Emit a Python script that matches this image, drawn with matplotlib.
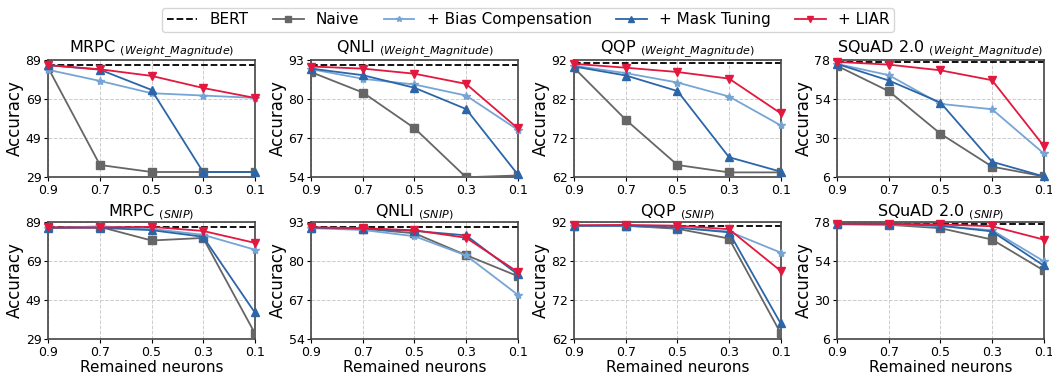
import numpy as np
import matplotlib.pyplot as plt

# --- data -----------------------------------------------------------------
ratios = [0.9, 0.7, 0.5, 0.3, 0.1]
tasks = ['MRPC', 'QNLI', 'QQP', 'SQuAD 2.0']
criteria = ['Weight_Magnitude', 'SNIP']
yticks = [[29, 49, 69, 89], [54, 67, 80, 93], [62, 72, 82, 92], [6, 30, 54, 78]]
bert = [86.3, 91.4, 91.1, 76.9]

# Weight magnitude row
wm_naive = [[84.7, 35.0, 31.4, 31.4, 31.4],
            [88.9, 82.1, 70.2, 53.8, 54.4],
            [89.9, 76.6, 65.0, 63.1, 63.1],
            [74.3, 58.7, 32.5, 12.2, 6.2]]
wm_bias = [[83.9, 78.2, 71.9, 70.7, 69.5],
           [89.9, 86.7, 84.8, 81.1, 69.7],
           [90.5, 88.6, 86.2, 82.6, 75.2],
           [75.5, 68.6, 50.9, 47.6, 20.4]]
wm_mask = [[86.3, 84.0, 73.6, 31.4, 31.4],
           [90.1, 87.9, 83.7, 76.6, 54.8],
           [90.3, 88.0, 84.0, 67.0, 63.3],
           [75.5, 65.3, 51.7, 15.2, 6.2]]
wm_liar = [[86.3, 84.2, 80.8, 74.6, 69.5],
           [90.8, 90.1, 88.4, 85.0, 70.2],
           [91.0, 90.0, 88.9, 87.2, 78.3],
           [76.8, 75.1, 71.6, 65.5, 25.1]]

# SNIP row
snip_naive = [[86.3, 86.6, 79.6, 80.9, 32.1],
              [91.2, 90.8, 89.3, 82.0, 75.0],
              [91.1, 91.1, 90.3, 87.8, 63.5],
              [76.8, 76.4, 74.3, 67.3, 48.3]]
snip_bias = [[85.9, 86.9, 85.6, 82.5, 74.9],
             [91.0, 90.4, 88.3, 81.9, 68.8],
             [91.0, 91.0, 90.6, 89.6, 84.2],
             [76.8, 76.6, 75.5, 73.1, 54.0]]
snip_mask = [[86.1, 86.1, 84.9, 81.5, 42.7],
             [91.2, 90.8, 90.1, 88.6, 75.6],
             [91.1, 91.1, 90.6, 89.4, 66.0],
             [76.8, 76.8, 75.9, 72.3, 51.3]]
snip_liar = [[86.3, 86.3, 86.6, 84.5, 78.4],
             [91.3, 91.0, 90.3, 87.8, 76.4],
             [91.2, 91.3, 91.1, 90.2, 79.5],
             [77.0, 77.0, 76.6, 75.5, 67.3]]

methods = ['Naive', '+ Bias Compensation', '+ Mask Tuning', '+ LIAR']
colors = ['#666666', '#76a5d5', '#2c66a8', '#e2183f']
markers = ['s', '*', '^', 'v']
msizes = [6, 6, 6, 6]

rows = [[wm_naive, wm_bias, wm_mask, wm_liar],
        [snip_naive, snip_bias, snip_mask, snip_liar]]

# --- plot -------------------------------------------------------------------
fig, axes = plt.subplots(2, 4, figsize=(10.52, 3.77), dpi=100)
fig.subplots_adjust(left=0.046, right=0.992, top=0.841, bottom=0.101,
                    hspace=0.39, wspace=0.275)

for r in range(2):
    for c in range(4):
        ax = axes[r, c]
        bl = ax.axhline(bert[c], color='black', linestyle='--', linewidth=1.3,
                        label='BERT', zorder=2)
        for m in range(4):
            ax.plot(ratios, rows[r][m][c], color=colors[m], marker=markers[m],
                    markersize=msizes[m], linewidth=1.3, label=methods[m],
                    zorder=3 + m, clip_on=False if m else True)
        ax.set_xlim(0.9, 0.1)
        ax.set_xticks(ratios)
        ax.set_xticklabels([str(x) for x in ratios])
        ax.set_ylim(yticks[c][0], yticks[c][-1])
        ax.set_yticks(yticks[c])
        ax.tick_params(labelsize=9, length=3, pad=2)
        ax.grid(True, linestyle='--', color='#cccccc', linewidth=0.7)
        for s in ax.spines.values():
            s.set_color('#444444')
            s.set_linewidth(1.2)
        ax.set_ylabel('Accuracy', fontsize=12, labelpad=1)
        crit = criteria[r].replace('_', r'\_')
        ax.set_title(tasks[c] + r' $_{\mathit{(' + crit + r')}}$',
                     fontsize=11.5, pad=3)
        if r == 1:
            ax.set_xlabel('Remained neurons', fontsize=11, labelpad=1)

handles, labels = axes[0, 0].get_legend_handles_labels()
fig.legend(handles, labels, loc='upper center', ncol=5, fontsize=11,
           bbox_to_anchor=(0.502, 1.0), frameon=True, handlelength=2.0,
           columnspacing=1.6, borderpad=0.3, markerscale=0.7)

plt.savefig('out.png', dpi=100)
plt.close()
